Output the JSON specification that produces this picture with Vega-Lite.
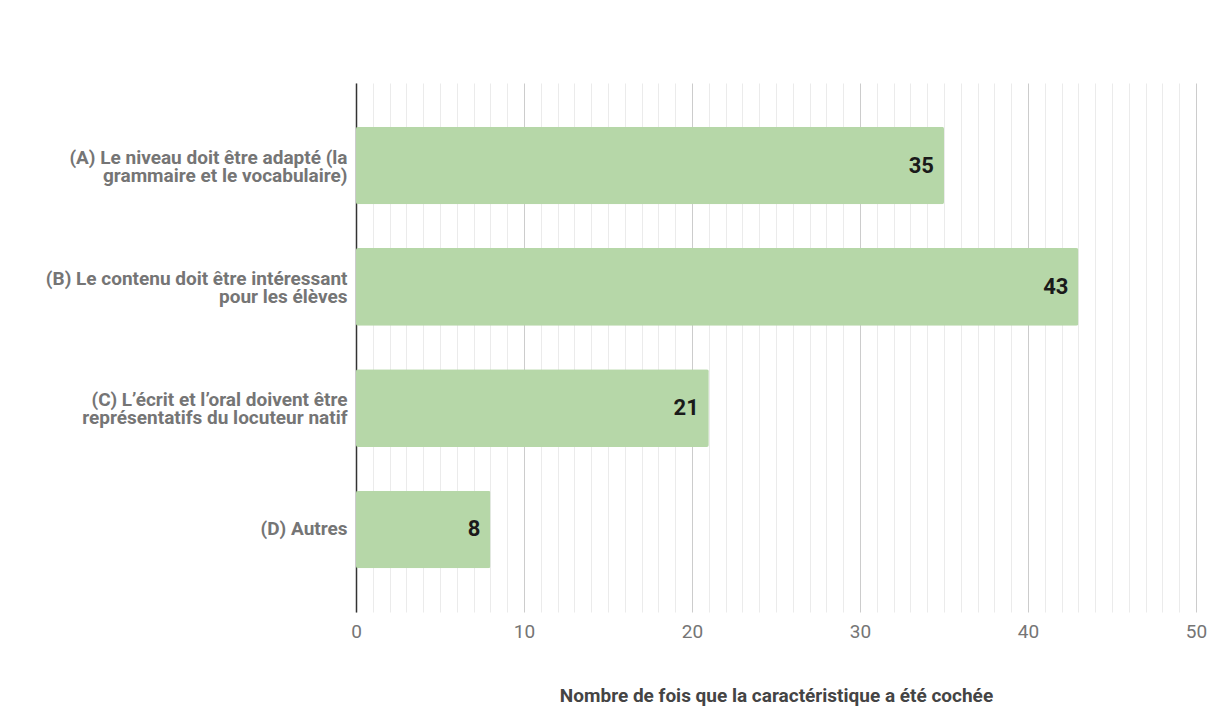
{
  "$schema": "https://vega.github.io/schema/vega-lite/v6.json",
  "width": 840,
  "height": 529,
  "autosize": {"type": "none"},
  "padding": {"left": 356, "top": 83, "right": 22, "bottom": 115},
  "background": "white",
  "config": {
    "view": {"stroke": null},
    "font": "Roboto"
  },
  "data": {
    "values": [
      {"caracteristique": "(A) Le niveau doit être adapté (la|grammaire et le vocabulaire)", "nombre": 35},
      {"caracteristique": "(B) Le contenu doit être intéressant|pour les élèves", "nombre": 43},
      {"caracteristique": "(C) L’écrit et l’oral doivent être|représentatifs du locuteur natif", "nombre": 21},
      {"caracteristique": "(D) Autres", "nombre": 8}
    ]
  },
  "encoding": {
    "y": {
      "field": "caracteristique",
      "type": "nominal",
      "sort": null,
      "scale": {"paddingInner": 0.36, "paddingOuter": 0.36},
      "axis": {
        "title": null,
        "ticks": false,
        "domain": true,
        "domainColor": "#333333",
        "domainWidth": 1.5,
        "labelExpr": "split(datum.value, '|')",
        "labelFont": "Roboto",
        "labelFontWeight": "bold",
        "labelFontSize": 19,
        "labelLineHeight": 18,
        "labelColor": "#757575",
        "labelPadding": 9,
        "labelLimit": 400,
        "labelOffset": {"condition": {"test": "indexof(datum.value, '|') >= 0", "value": -8}, "value": 0}
      }
    },
    "x": {
      "field": "nombre",
      "type": "quantitative",
      "scale": {"domain": [0, 50], "nice": false},
      "axis": {
        "values": [0,1,2,3,4,5,6,7,8,9,10,11,12,13,14,15,16,17,18,19,20,21,22,23,24,25,26,27,28,29,30,31,32,33,34,35,36,37,38,39,40,41,42,43,44,45,46,47,48,49,50],
        "labelExpr": "datum.value % 10 === 0 ? datum.label : ''",
        "grid": true,
        "gridColor": {"condition": {"test": "datum.value % 10 === 0", "value": "#cccccc"}, "value": "#ebebeb"},
        "gridWidth": 1,
        "ticks": false,
        "domain": false,
        "labelFont": "Roboto",
        "labelFontSize": 19,
        "labelColor": "#757575",
        "labelPadding": 10,
        "labelFlush": false,
        "labelOverlap": false,
        "title": "Nombre de fois que la caractéristique a été cochée",
        "titleFont": "Roboto",
        "titleFontSize": 19,
        "titleFontWeight": "bold",
        "titleColor": "#444444",
        "titlePadding": 45
      }
    }
  },
  "layer": [
    {
      "mark": {"type": "bar", "color": "#b6d7a8", "cornerRadius": 2}
    },
    {
      "mark": {"type": "text", "align": "right", "baseline": "middle", "dx": -10, "font": "Roboto", "fontSize": 22, "fontWeight": "bold", "color": "#1a1a1a"},
      "encoding": {"text": {"field": "nombre", "type": "quantitative"}}
    }
  ]
}
